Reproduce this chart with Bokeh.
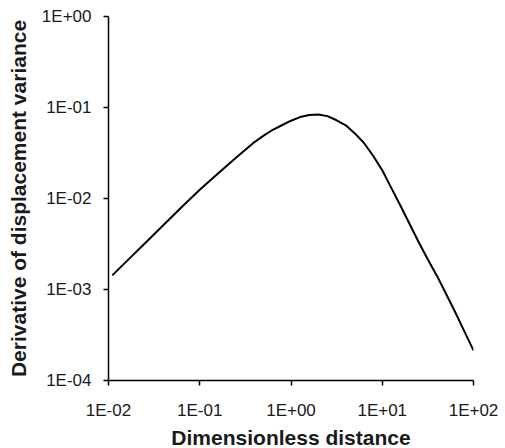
from bokeh.plotting import figure
from bokeh.models import FixedTicker, CustomJSTickFormatter
from bokeh.embed import file_html
from bokeh.resources import INLINE

# data
distance = [0.011, 0.01585, 0.02512, 0.03981, 0.0631, 0.1, 0.1585, 0.2512, 0.3981, 0.5012,
            0.631, 0.7943, 1.0, 1.259, 1.585, 1.995, 2.512, 3.162, 3.981, 5.012,
            6.31, 7.943, 10.0, 12.59, 15.85, 19.95, 25.12, 31.62, 39.81, 50.12,
            63.1, 79.43, 100.0]
deriv_var = [0.00143, 0.00205, 0.00323, 0.00508, 0.0080, 0.01245, 0.0188, 0.0282, 0.0417, 0.0490,
             0.0569, 0.0638, 0.0716, 0.0785, 0.0826, 0.0838, 0.0804, 0.0724, 0.0638, 0.0519,
             0.0407, 0.0295, 0.0204, 0.0130, 0.00832, 0.00525, 0.00331, 0.00214, 0.00141, 0.000891,
             0.000562, 0.000347, 0.000214]

x_ticks = [0.01, 0.1, 1.0, 10.0, 100.0]
x_tick_labels = ["1E-02", "1E-01", "1E+00", "1E+01", "1E+02"]
y_ticks = [0.0001, 0.001, 0.01, 0.1, 1.0]
y_tick_labels = ["1E-04", "1E-03", "1E-02", "1E-01", "1E+00"]

p = figure(frame_width=365, frame_height=364, x_axis_type="log", y_axis_type="log",
           x_range=(0.01, 100), y_range=(0.0001, 1),
           output_backend="svg", toolbar_location=None,
           min_border_left=108, min_border_right=32, min_border_top=16, min_border_bottom=68)

p.line(distance, deriv_var, line_color="black", line_width=2, line_join="round")

FONT = "Liberation Sans"
code = """
let best = 0, bd = Infinity;
for (let i = 0; i < tvals.length; i++) {
  const d = Math.abs(Math.log10(tick) - Math.log10(tvals[i]));
  if (d < bd) { bd = d; best = i; }
}
return tlabels[best];
"""
p.xaxis.ticker = FixedTicker(ticks=x_ticks)
p.yaxis.ticker = FixedTicker(ticks=y_ticks)
p.xaxis.formatter = CustomJSTickFormatter(args=dict(tvals=x_ticks, tlabels=x_tick_labels), code=code)
p.yaxis.formatter = CustomJSTickFormatter(args=dict(tvals=y_ticks, tlabels=y_tick_labels), code=code)

p.xaxis.axis_label = "Dimensionless distance"
p.yaxis.axis_label = "Derivative of displacement variance"
for ax in (p.xaxis, p.yaxis):
    ax.axis_label_text_font = FONT
    ax.axis_label_text_font_style = "bold"
    ax.axis_label_text_font_size = "21px"
    ax.axis_label_text_color = "#1a1a1a"
    ax.major_label_text_font = FONT
    ax.major_label_text_font_size = "17px"
    ax.major_label_text_color = "#1a1a1a"
    ax.axis_line_color = "black"
    ax.axis_line_width = 1.5
    ax.major_tick_line_color = "black"
    ax.major_tick_line_width = 1.5
    ax.major_tick_in = 0
    ax.major_tick_out = 5
    ax.minor_tick_line_color = None
p.xaxis.major_label_standoff = 15
p.yaxis.major_label_standoff = 12
p.xaxis.axis_label_standoff = 3
p.yaxis.axis_label_standoff = 9

p.xgrid.visible = False
p.ygrid.visible = False
p.outline_line_color = None

open("out.html", "w").write(file_html(p, INLINE))
